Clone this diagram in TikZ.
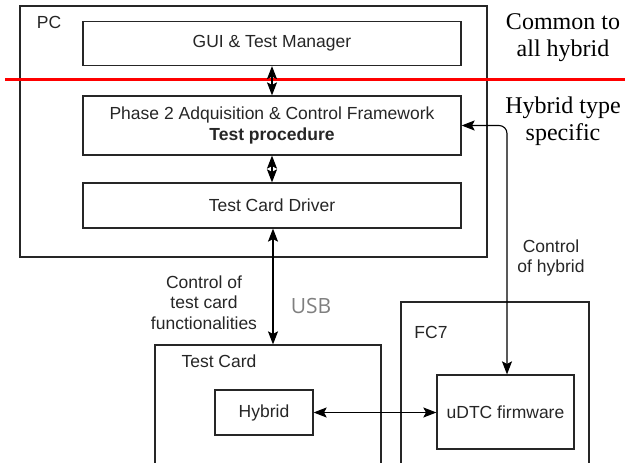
\documentclass[tikz,border=0pt]{standalone}
\usepackage{fontspec}
\setmainfont{Liberation Sans}
\newfontfamily\tnr{Liberation Serif}
\newfontfamily\osans{Open Sans}
\usetikzlibrary{arrows.meta}
\definecolor{txt}{HTML}{262626}
\definecolor{usbgray}{HTML}{7F7F7F}
\begin{document}
\begin{tikzpicture}[x=1pt,y=-1pt,
  blk/.style={draw=black!85,line width=1.2pt,inner sep=0pt,text=txt,font=\fontsize{17.5}{21}\selectfont,align=center},
  lbl/.style={inner sep=0pt,text=txt,font=\fontsize{17.5}{20.5}\selectfont,align=center},
  serifl/.style={inner sep=0pt,text=black,font=\tnr\fontsize{24}{27}\selectfont,align=center},
  tip/.tip={Stealth[length=13pt,width=10pt,inset=2.5pt]},
  conn/.style={line width=1.1pt,tip-tip}]
\useasboundingbox (0,0) rectangle (625,463);
\begin{scope}
\clip (0,0) rectangle (625,463);
% containers
\node[blk,minimum width=467pt,minimum height=251pt] (pc) at (253.5,131.5) {};
\node[lbl,anchor=center] (pclbl) at (49,22) {PC};
\node[blk,minimum width=226pt,minimum height=130pt] (tc) at (268,410) {};
\node[lbl] (tclbl) at (219,361) {Test Card};
\node[blk,minimum width=188pt,minimum height=173pt] (fc) at (495,388.5) {};
\node[lbl] (fclbl) at (431,332) {FC7};
% blocks
\node[blk,minimum width=378pt,minimum height=44pt] (gui) at (272,43.5) {GUI \& Test Manager};
\node[blk,minimum width=378pt,minimum height=59pt] (ph) at (272,125.5) {Phase 2 Adquisition \& Control Framework\\\textbf{Test procedure}};
\node[blk,minimum width=378pt,minimum height=45pt] (drv) at (272,205.5) {Test Card Driver};
\node[blk,minimum width=98pt,minimum height=45pt] (hyb) at (264,412.5) {Hybrid};
\node[blk,minimum width=137pt,minimum height=74pt] (udtc) at (505.5,412) {uDTC firmware};
% red separator
\coordinate (rl) at (5,79);
\coordinate (rr) at (625,79);
\draw[red,line width=3pt] (rl) -- (rr);
% connectors
\draw[conn] (gui.south) -- (ph.north);
\draw[conn] (ph.south) -- (drv.north);
\draw[conn] ([xshift=1pt]drv.south) -- ([xshift=1pt]drv.south |- tc.north);
\draw[conn] (hyb.east) -- (udtc.west|-hyb.east);
\draw[conn,rounded corners=8pt] (ph.east) -| ([xshift=1.5pt]udtc.north);
% labels
\node[lbl] (l1) at (204,302.5) {Control of\\test card\\functionalities};
\node[lbl] (l2) at (551,258) {Control\\of hybrid};
\node[inner sep=0pt,text=usbgray,font=\osans\fontsize{21}{24}\selectfont] (usb) at (311,306) {USB};
\node[serifl] (s1) at (563,38) {Common to\\all hybrid};
\node[serifl] (s2) at (563,121) {Hybrid type\\specific};
\end{scope}
\end{tikzpicture}
\end{document}
